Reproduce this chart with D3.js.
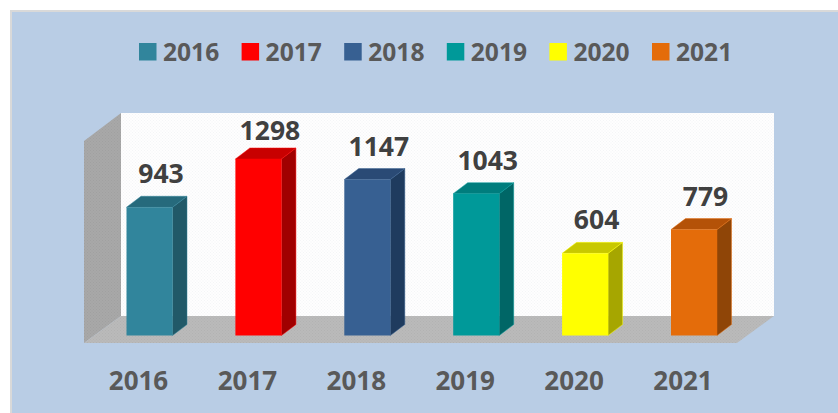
<!DOCTYPE html>
<html><head><meta charset="utf-8">
<script src="https://cdn.jsdelivr.net/npm/d3@7/dist/d3.min.js"></script>
<style>html,body{margin:0;padding:0;background:#fff}svg{display:block}text{font-family:"Open Sans","Noto Sans",sans-serif;font-weight:700}</style>
</head><body><svg id="c" width="838" height="413"></svg>
<script>
const categories=["2016","2017","2018","2019","2020","2021"];
const values=[943,1298,1147,1043,604,779];
const frontColors=["#31859C","#FF0000","#376092","#009999","#FFFF00","#E46C0A"];
const topColors=["#266A7C","#C80000","#2A4A75","#007D7D","#C8C800","#B45208"];
const sideColors=["#215968","#A00000","#1F3B5E","#006666","#A6A600","#8F4507"];

const svg=d3.select("#c");
const defs=svg.append("defs");
function dots(id,bg,fg,s){
  const p=defs.append("pattern").attr("id",id).attr("width",s).attr("height",s).attr("patternUnits","userSpaceOnUse");
  p.append("rect").attr("width",s).attr("height",s).attr("fill",bg);
  p.append("rect").attr("width",1).attr("height",1).attr("fill",fg);
  p.append("rect").attr("x",s/2).attr("y",s/2).attr("width",1).attr("height",1).attr("fill",fg);
}
dots("wall","#FEFEFE","#F4F5F7",3);
dots("side","#A8A8A8","#A0A0A0",3);
dots("floor","#BABABA","#B2B2B2",3);

svg.append("rect").attr("x",11).attr("y",11).attr("width",830).attr("height",405)
  .attr("fill","#B9CDE5").attr("stroke","#D9D9D9").attr("stroke-width",2);

const x=d3.scalePoint().domain(categories).range([149.5,694]);
const y=d3.scaleLinear().domain([0,1298]).range([335.5,159]);
const halfW=23, dx=14.5, dy=11;
const poly=a=>a.map(p=>p.join(",")).join(" ");

const wl=121,wr=774,wt=113,wb=316,ddx=37,ddy=27;
svg.append("polygon").attr("points",poly([[wl,wt],[wr,wt],[wr,wb],[wl,wb]])).attr("fill","url(#wall)");
svg.append("polygon").attr("points",poly([[wl-ddx,wt+ddy+1],[wl,wt],[wl,wb],[wl-ddx,wb+ddy]])).attr("fill","url(#side)");
svg.append("polygon").attr("points",poly([[wl-ddx,wb+ddy],[wl,wb],[wr,wb],[wr-ddx,wb+ddy]])).attr("fill","url(#floor)");

const bars=svg.append("g").selectAll("g").data(categories).join("g");
bars.each(function(c,i){
  const g=d3.select(this),l=x(c)-halfW,r=x(c)+halfW,t=y(values[i]),b=y(0);
  const edge={stroke:frontColors[i],"stroke-width":0.8,"stroke-opacity":0.6,"stroke-linejoin":"round"};
  const s=g.append("polygon").attr("points",poly([[r,t],[r+dx,t-dy],[r+dx,b-dy],[r,b]])).attr("fill",sideColors[i]);
  const u=g.append("polygon").attr("points",poly([[l,t],[l+dx,t-dy],[r+dx,t-dy],[r,t]])).attr("fill",topColors[i]);
  for(const k in edge){s.attr(k,edge[k]);u.attr(k,edge[k]);}
  g.append("rect").attr("x",l).attr("y",t).attr("width",r-l).attr("height",b-t).attr("fill",frontColors[i]);
});

svg.append("g").selectAll("text").data(categories).join("text")
  .attr("x",c=>x(c)+11.5).attr("y",(c,i)=>Math.max(y(values[i])-24,140))
  .attr("text-anchor","middle").attr("font-size",26.5).attr("fill","#404040")
  .text((c,i)=>values[i]);

svg.append("g").selectAll("text").data(categories).join("text")
  .attr("x",c=>x(c)-11).attr("y",390)
  .attr("text-anchor","middle").attr("font-size",26).attr("fill","#595959").text(c=>c);

const lx=d3.scalePoint().domain(categories).range([139,652]);
const lg=svg.append("g").selectAll("g").data(categories).join("g")
  .attr("transform",c=>`translate(${lx(c)},43)`);
lg.append("rect").attr("width",17.5).attr("height",17.5).attr("fill",(c,i)=>frontColors[i]);
lg.append("text").attr("x",24).attr("y",17.5).attr("font-size",24.6).attr("fill","#595959").text(c=>c);
</script></body></html>
